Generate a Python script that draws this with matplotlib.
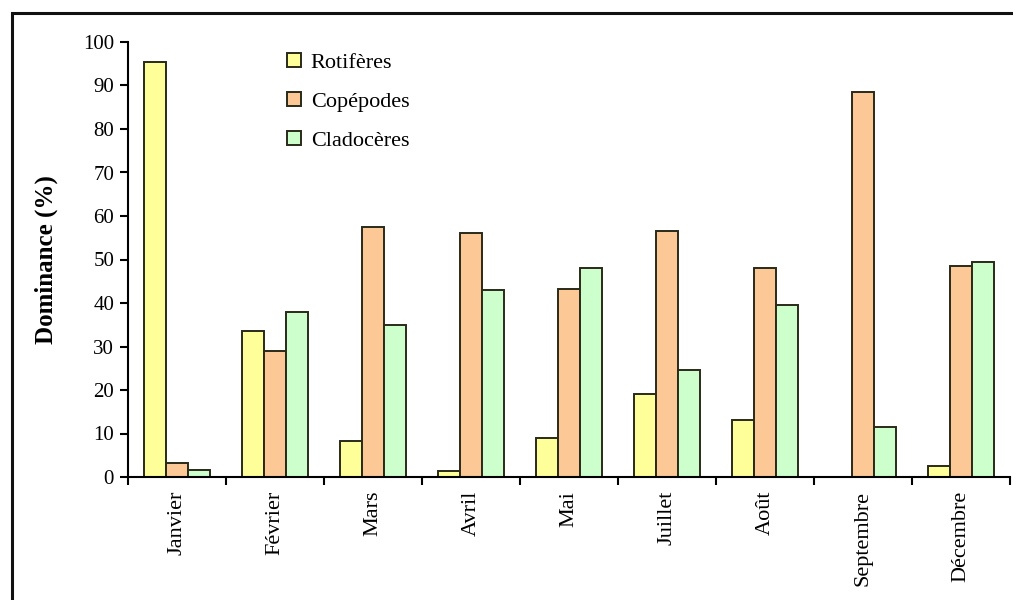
import numpy as np
from matplotlib import pyplot as plt
from matplotlib.patches import Rectangle

months = ["Janvier", "Février", "Mars", "Avril", "Mai", "Juillet", "Août", "Septembre", "Décembre"]
rotiferes = [95.5, 33.5, 8.2, 1.4, 9.0, 19.0, 13.0, 0.0, 2.5]
copepodes = [3.3, 29.0, 57.5, 56.0, 43.3, 56.5, 48.0, 88.5, 48.5]
cladoceres = [1.7, 38.0, 35.0, 43.0, 48.0, 24.5, 39.5, 11.5, 49.5]

series_names = ["Rotifères", "Copépodes", "Cladocères"]
series_colors = ["#ffff99", "#fbc896", "#ccffcc"]

plt.rcParams["font.family"] = ["Liberation Serif", "DejaVu Serif"]

fig = plt.figure(figsize=(10.13, 6.0), dpi=100)
fig.patch.set_facecolor("white")

# outer frame running off the right and bottom edges
fig.patches.append(Rectangle((12 / 1013, -0.05), 1.2, 1 - 13 / 600 + 0.05,
                             transform=fig.transFigure, fill=False,
                             edgecolor="#111111", linewidth=2.2))

ax = fig.add_axes([128 / 1013, 1 - 477 / 600, (1010 - 128) / 1013, (477 - 42) / 600])

x = np.arange(len(months))
width = 0.225
for i, (vals, name, color) in enumerate(zip([rotiferes, copepodes, cladoceres], series_names, series_colors)):
    ax.bar(x + (i - 1) * width, vals, width, color=color, edgecolor="#2a2a1a",
           linewidth=1.4, label=name, zorder=2)

ax.set_xlim(-0.5, len(months) - 0.5)
ax.set_ylim(0, 100)
ax.set_yticks(np.arange(0, 101, 10))

ax.set_xticks(np.arange(-0.5, len(months)), minor=False)
ax.set_xticklabels([])
ax.set_xticks(x, minor=True)
ax.set_xticklabels(months, minor=True, rotation=90, fontsize=16, va="top")
ax.tick_params(axis="x", which="minor", length=0, pad=10)
ax.tick_params(axis="x", which="major", direction="out", length=6, width=1.5)
ax.tick_params(axis="y", direction="out", length=6, width=1.5, labelsize=15, pad=4)

for side in ["top", "right"]:
    ax.spines[side].set_visible(False)
for side in ["left", "bottom"]:
    ax.spines[side].set_linewidth(1.5)

ax.set_ylabel("Dominance (%)", fontsize=18, fontweight="bold", labelpad=18)

leg = ax.legend(loc="upper left", bbox_to_anchor=(0.158, 1.02), frameon=False,
                fontsize=16, handlelength=0.6, handleheight=0.6,
                handletextpad=0.45, labelspacing=0.85)

fig.savefig("out.png", dpi=100)
